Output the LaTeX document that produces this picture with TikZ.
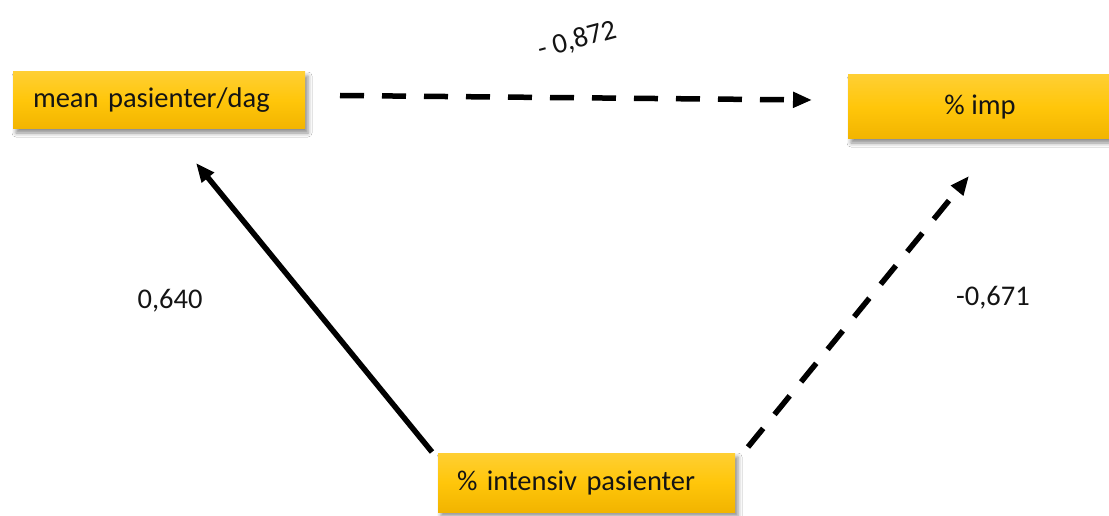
\documentclass[tikz,border=0pt]{standalone}
\usepackage{fontspec}
\setmainfont{Carlito}
\usetikzlibrary{arrows.meta,shadows.blur}
\definecolor{boxtop}{HTML}{FFCF33}
\definecolor{boxmid}{HTML}{FFC60A}
\definecolor{boxbot}{HTML}{F2B400}
\definecolor{txt}{HTML}{141414}
\begin{document}
\begin{tikzpicture}[x=1pt,y=-1pt,
  font=\fontsize{28.5}{34}\selectfont,
  varbox/.style={draw=none, top color=boxtop, bottom color=boxbot, middle color=boxmid,
    text=txt, inner ysep=0pt,
    blur shadow={shadow xshift=3pt, shadow yshift=-4pt, shadow blur radius=4pt, shadow opacity=45}},
  coef/.style={text=txt, inner sep=0pt},
  link/.style={line width=5.5pt, -{Triangle[length=19pt,width=15pt]}},
  dlink/.style={link, dash pattern=on 24pt off 18pt}
]
\useasboundingbox (0,0) rectangle (1109,516);
\fill[white] (0,0) rectangle (1109,516);

\node[varbox, minimum width=292pt, minimum height=57pt, text width=252pt, inner xsep=20pt, align=left] (mean) at (159,100.5) {mean pasienter/dag};
\node[varbox, minimum width=264pt, minimum height=64pt, align=center] (imp) at (980,107) {\% imp};
\node[varbox, minimum width=297pt, minimum height=59pt, text width=259pt, inner xsep=19pt, align=left] (int) at (586.5,482.5) {\% intensiv pasienter};

\coordinate (meanout) at (340,95.5);
\coordinate (impin) at (812,100);
\coordinate (intoutl) at (432,452);
\coordinate (meanin) at (196,163);
\coordinate (intoutr) at (748,447);
\coordinate (impinb) at (969,176);

\draw[dlink] (meanout) -- (impin);
\draw[link] (intoutl) -- (meanin);
\draw[dlink] (intoutr) -- (impinb);

\node[coef, rotate=15] (c1) at (577,40) {- 0,872};
\node[coef] (c2) at (170,301) {0,640};
\node[coef] (c3) at (993,298) {-0,671};
\end{tikzpicture}
\end{document}
